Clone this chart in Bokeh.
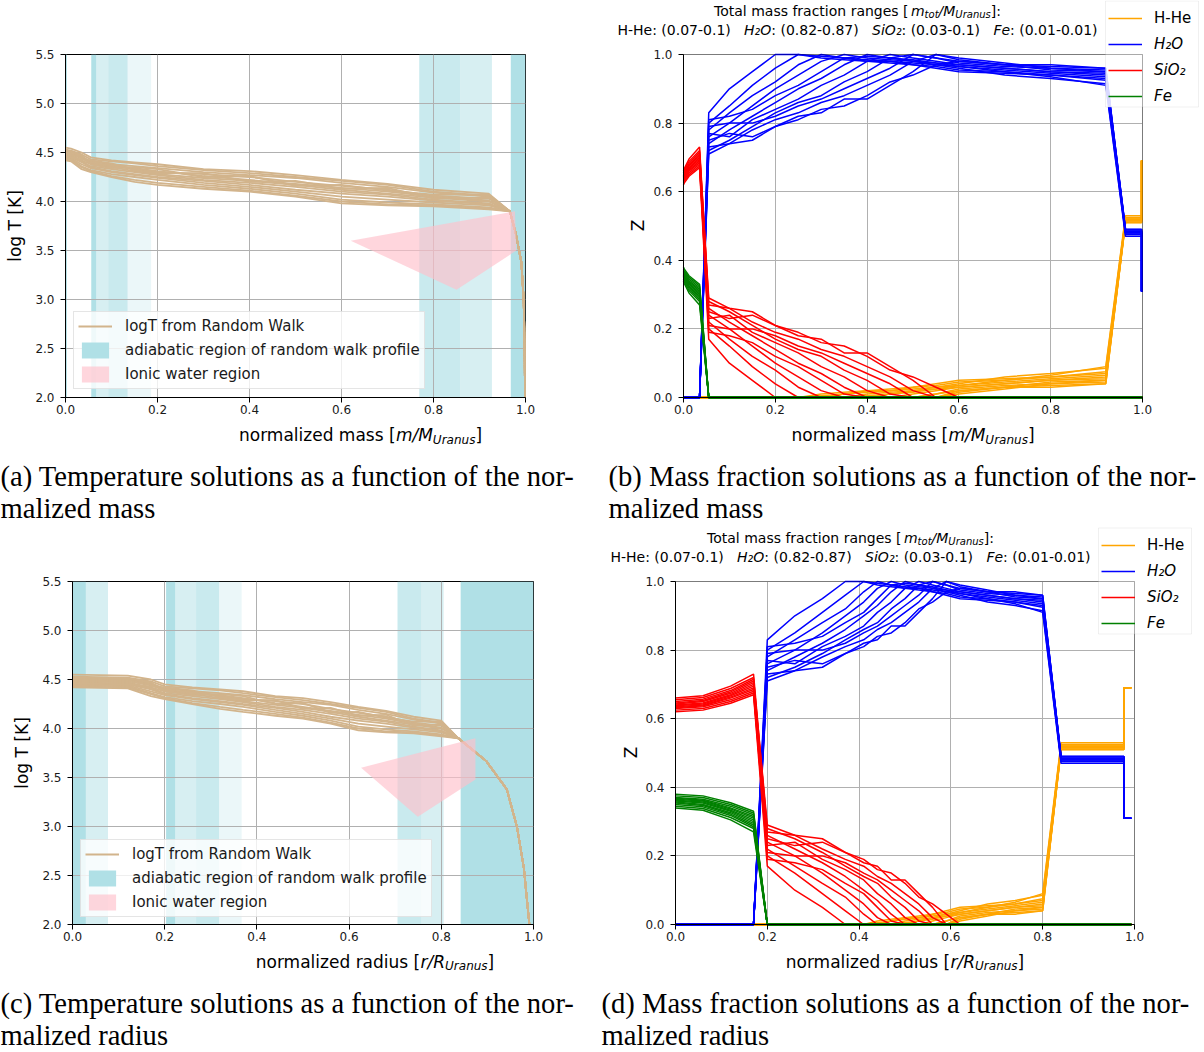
import math
from bokeh.plotting import figure
from bokeh.models import (Range1d, FixedTicker, PrintfTickFormatter, Legend,
                          LegendItem, Label, ColumnDataSource, BoxAnnotation)
from bokeh.layouts import column, row
from bokeh.embed import file_html
from bokeh.resources import INLINE

# ------------------------------------------------------------------ data
# temperature random-walk profiles (log T [K]) on common nodes
T_NODE_MASS = [0.0, 0.012, 0.035, 0.055, 0.1, 0.15, 0.2, 0.3, 0.4, 0.5, 0.6, 0.7, 0.8, 0.92]
T_NODE_RADIUS = [0.0, 0.12, 0.17, 0.2, 0.26, 0.32, 0.37, 0.44, 0.5, 0.56, 0.62, 0.68, 0.74, 0.80]
LOGT_PROFILES = [
    [4.55, 4.54, 4.50, 4.45, 4.42, 4.40, 4.38, 4.33, 4.31, 4.27, 4.22, 4.18, 4.12, 4.08],
    [4.53, 4.52, 4.48, 4.43, 4.41, 4.39, 4.36, 4.32, 4.29, 4.25, 4.21, 4.17, 4.10, 4.06],
    [4.51, 4.50, 4.46, 4.41, 4.38, 4.36, 4.34, 4.30, 4.27, 4.24, 4.19, 4.15, 4.09, 4.05],
    [4.50, 4.49, 4.45, 4.40, 4.36, 4.33, 4.30, 4.28, 4.25, 4.20, 4.16, 4.12, 4.06, 4.03],
    [4.49, 4.48, 4.44, 4.39, 4.37, 4.34, 4.31, 4.26, 4.22, 4.18, 4.14, 4.10, 4.05, 4.01],
    [4.48, 4.47, 4.42, 4.38, 4.35, 4.31, 4.28, 4.24, 4.21, 4.17, 4.12, 4.08, 4.04, 4.00],
    [4.47, 4.46, 4.41, 4.36, 4.33, 4.30, 4.27, 4.22, 4.19, 4.15, 4.10, 4.07, 4.02, 3.98],
    [4.46, 4.45, 4.40, 4.35, 4.31, 4.28, 4.25, 4.21, 4.17, 4.12, 4.08, 4.05, 4.01, 3.97],
    [4.45, 4.44, 4.38, 4.34, 4.30, 4.27, 4.24, 4.19, 4.15, 4.10, 4.05, 4.02, 3.99, 3.96],
    [4.44, 4.43, 4.36, 4.32, 4.28, 4.25, 4.22, 4.17, 4.13, 4.08, 4.02, 3.99, 3.97, 3.94],
    [4.43, 4.42, 4.35, 4.31, 4.26, 4.22, 4.19, 4.15, 4.11, 4.06, 4.00, 3.97, 3.96, 3.93],
    [4.42, 4.41, 4.33, 4.30, 4.25, 4.20, 4.17, 4.13, 4.10, 4.05, 3.98, 3.96, 3.95, 3.92],
    [4.52, 4.51, 4.47, 4.38, 4.34, 4.35, 4.33, 4.25, 4.26, 4.16, 4.17, 4.11, 4.07, 4.07],
    [4.46, 4.45, 4.43, 4.42, 4.39, 4.32, 4.29, 4.29, 4.20, 4.21, 4.13, 4.14, 4.03, 4.04],
]
LOGT_TAIL = [3.9, 3.67, 3.38, 3.0, 2.58, 2.0]
T_TAIL_MASS = [0.966, 0.979, 0.991, 0.996, 0.998, 0.999]
T_TAIL_RADIUS = [0.837, 0.897, 0.942, 0.964, 0.979, 0.991]

# adiabatic regions (start, end, overlap depth)
ADIAB_MASS_START = [0.0, 0.056, 0.067, 0.093, 0.135, 0.769, 0.858, 0.968]
ADIAB_MASS_END = [0.003, 0.067, 0.093, 0.135, 0.186, 0.858, 0.927, 1.0]
ADIAB_MASS_DEPTH = [4, 4, 2, 3, 1, 3, 2, 4]
ADIAB_RADIUS_START = [0.0, 0.029, 0.203, 0.223, 0.268, 0.318, 0.705, 0.757, 0.842]
ADIAB_RADIUS_END = [0.029, 0.077, 0.223, 0.268, 0.318, 0.367, 0.757, 0.805, 1.0]
ADIAB_RADIUS_DEPTH = [4, 2, 4, 2, 3, 1, 3, 2, 4]

# ionic water region polygons
IONIC_MASS_X = [0.62, 0.977, 0.98, 0.85]
IONIC_MASS_Y = [3.6, 3.9, 3.5, 3.1]
IONIC_RADIUS_X = [0.626, 0.874, 0.874, 0.749]
IONIC_RADIUS_Y = [3.6, 3.9, 3.48, 3.1]

# mass fraction profiles on common nodes
Z_NODE_MASS = [0.0, 0.0015, 0.012, 0.035, 0.055, 0.1, 0.15, 0.2, 0.25, 0.3, 0.35, 0.4,
               0.45, 0.5, 0.55, 0.6, 0.7, 0.8, 0.92, 0.963, 0.998, 0.998, 1.0]
Z_NODE_RADIUS = [0.0, 0.06, 0.12, 0.17, 0.2, 0.26, 0.32, 0.37, 0.41, 0.44, 0.47, 0.5,
                 0.53, 0.56, 0.59, 0.62, 0.68, 0.74, 0.80, 0.84, 0.977, 0.977, 0.993]
FE_CORE = [  # nodes 0-3
    [0.38, 0.375, 0.355, 0.33], [0.375, 0.37, 0.35, 0.325], [0.37, 0.365, 0.345, 0.32],
    [0.368, 0.362, 0.34, 0.315], [0.365, 0.36, 0.337, 0.31], [0.362, 0.357, 0.333, 0.305],
    [0.36, 0.354, 0.33, 0.30], [0.357, 0.35, 0.326, 0.295], [0.354, 0.347, 0.322, 0.29],
    [0.35, 0.343, 0.318, 0.285], [0.345, 0.338, 0.312, 0.28], [0.34, 0.333, 0.305, 0.27],
]
SIO2 = [  # nodes 0-14
    [0.62, 0.625, 0.645, 0.67, 0.17, 0.10, 0.05, 0.0, 0.0, 0.0, 0.0, 0.0, 0.0, 0.0, 0.0],
    [0.625, 0.63, 0.65, 0.675, 0.20, 0.15, 0.09, 0.04, 0.0, 0.0, 0.0, 0.0, 0.0, 0.0, 0.0],
    [0.63, 0.635, 0.655, 0.68, 0.22, 0.17, 0.12, 0.08, 0.03, 0.0, 0.0, 0.0, 0.0, 0.0, 0.0],
    [0.632, 0.638, 0.66, 0.685, 0.24, 0.20, 0.15, 0.10, 0.06, 0.02, 0.0, 0.0, 0.0, 0.0, 0.0],
    [0.635, 0.64, 0.663, 0.69, 0.19, 0.18, 0.16, 0.12, 0.09, 0.05, 0.01, 0.0, 0.0, 0.0, 0.0],
    [0.638, 0.643, 0.667, 0.695, 0.26, 0.22, 0.18, 0.14, 0.10, 0.07, 0.03, 0.0, 0.0, 0.0, 0.0],
    [0.64, 0.646, 0.67, 0.70, 0.23, 0.24, 0.19, 0.16, 0.13, 0.09, 0.06, 0.02, 0.0, 0.0, 0.0],
    [0.643, 0.65, 0.674, 0.705, 0.28, 0.25, 0.21, 0.17, 0.14, 0.12, 0.08, 0.05, 0.01, 0.0, 0.0],
    [0.646, 0.653, 0.678, 0.71, 0.21, 0.20, 0.20, 0.18, 0.15, 0.13, 0.10, 0.07, 0.04, 0.0, 0.0],
    [0.65, 0.657, 0.682, 0.715, 0.29, 0.26, 0.22, 0.19, 0.17, 0.14, 0.12, 0.09, 0.06, 0.02, 0.0],
    [0.655, 0.662, 0.688, 0.72, 0.25, 0.23, 0.24, 0.21, 0.18, 0.17, 0.13, 0.13, 0.09, 0.05, 0.0],
    [0.66, 0.667, 0.695, 0.73, 0.27, 0.26, 0.25, 0.21, 0.19, 0.16, 0.15, 0.12, 0.08, 0.06, 0.03],
]
HHE = [  # nodes 9-19
    [0.01, 0.015, 0.02, 0.025, 0.03, 0.04, 0.05, 0.055, 0.06, 0.07, 0.52],
    [0.005, 0.01, 0.02, 0.02, 0.03, 0.035, 0.045, 0.05, 0.065, 0.09, 0.53],
    [0.0, 0.01, 0.015, 0.02, 0.025, 0.03, 0.04, 0.06, 0.07, 0.085, 0.525],
    [0.0, 0.0, 0.01, 0.015, 0.02, 0.03, 0.035, 0.045, 0.055, 0.065, 0.52],
    [0.0, 0.0, 0.005, 0.01, 0.015, 0.025, 0.03, 0.04, 0.05, 0.06, 0.515],
    [0.0, 0.0, 0.0, 0.01, 0.02, 0.025, 0.035, 0.05, 0.06, 0.075, 0.52],
    [0.0, 0.0, 0.0, 0.0, 0.01, 0.02, 0.03, 0.04, 0.05, 0.055, 0.51],
    [0.0, 0.0, 0.0, 0.0, 0.0, 0.01, 0.02, 0.03, 0.045, 0.05, 0.515],
    [0.0, 0.0, 0.0, 0.0, 0.0, 0.01, 0.025, 0.035, 0.04, 0.045, 0.51],
    [0.0, 0.0, 0.0, 0.0, 0.0, 0.0, 0.015, 0.03, 0.035, 0.04, 0.51],
    [0.0, 0.0, 0.0, 0.0, 0.0, 0.0, 0.01, 0.025, 0.04, 0.05, 0.52],
    [0.0, 0.0, 0.0, 0.0, 0.0, 0.0, 0.02, 0.03, 0.03, 0.04, 0.515],
]
H2O = [  # nodes 4-19
    [0.83, 0.90, 0.95, 1.0, 1.0, 0.99, 0.985, 0.98, 0.975, 0.97, 0.96, 0.95, 0.945, 0.94, 0.93, 0.48],
    [0.80, 0.85, 0.91, 0.96, 1.0, 0.995, 0.99, 0.98, 0.98, 0.97, 0.965, 0.955, 0.95, 0.935, 0.91, 0.47],
    [0.78, 0.83, 0.88, 0.92, 0.97, 1.0, 0.99, 0.985, 0.98, 0.975, 0.97, 0.96, 0.94, 0.93, 0.915, 0.475],
    [0.76, 0.80, 0.85, 0.90, 0.94, 0.98, 1.0, 0.99, 0.985, 0.98, 0.97, 0.965, 0.955, 0.945, 0.935, 0.48],
    [0.81, 0.82, 0.84, 0.88, 0.91, 0.95, 0.99, 0.995, 0.99, 0.985, 0.975, 0.97, 0.96, 0.95, 0.94, 0.485],
    [0.74, 0.78, 0.82, 0.86, 0.90, 0.93, 0.97, 1.0, 0.99, 0.98, 0.975, 0.965, 0.95, 0.94, 0.925, 0.48],
    [0.77, 0.76, 0.81, 0.84, 0.87, 0.91, 0.94, 0.98, 1.0, 0.99, 0.98, 0.97, 0.96, 0.95, 0.945, 0.49],
    [0.72, 0.75, 0.79, 0.83, 0.86, 0.88, 0.92, 0.95, 0.99, 1.0, 0.99, 0.98, 0.97, 0.955, 0.95, 0.485],
    [0.79, 0.80, 0.80, 0.82, 0.85, 0.87, 0.90, 0.93, 0.96, 1.0, 0.99, 0.975, 0.965, 0.96, 0.955, 0.49],
    [0.71, 0.74, 0.78, 0.81, 0.83, 0.86, 0.88, 0.91, 0.94, 0.98, 1.0, 0.985, 0.97, 0.965, 0.96, 0.49],
    [0.75, 0.77, 0.76, 0.79, 0.82, 0.83, 0.87, 0.87, 0.91, 0.95, 1.0, 0.99, 0.975, 0.96, 0.95, 0.48],
    [0.73, 0.74, 0.75, 0.79, 0.81, 0.84, 0.85, 0.88, 0.92, 0.94, 0.97, 0.98, 0.97, 0.97, 0.96, 0.485],
]
OUTER_HHE = [0.69, 0.69]
OUTER_H2O = [0.31, 0.31]

X_TICKS = [0.0, 0.2, 0.4, 0.6, 0.8, 1.0]
T_TICKS = [2.0, 2.5, 3.0, 3.5, 4.0, 4.5, 5.0, 5.5]
Z_TICKS = [0.0, 0.2, 0.4, 0.6, 0.8, 1.0]

SPECIES = ["H-He", "H\u2082O", "SiO\u2082", "Fe"]
SPECIES_COLORS = ["#FFA500", "#0000FF", "#FF0000", "#008000"]

CAPTIONS = [
    ["(a) Temperature solutions as a function of the nor-", "malized mass"],
    ["(b) Mass fraction solutions as a function of the nor-", "malized mass"],
    ["(c) Temperature solutions as a function of the nor-", "malized radius"],
    ["(d) Mass fraction solutions as a function of the nor-", "malized radius"],
]

# ------------------------------------------------------------------ helpers
FONT = "DejaVu Sans"
W = {' ': .318, '(': .390, ')': .390, '-': .361, '.': .318, '/': .337, ':': .337,
     '[': .390, ']': .390, 'A': .684, 'F': .575, 'H': .752, 'K': .656, 'M': .863,
     'O': .787, 'R': .695, 'S': .635, 'T': .611, 'U': .732, 'Z': .685, 'a': .613,
     'b': .635, 'c': .550, 'd': .635, 'e': .615, 'f': .352, 'g': .635, 'h': .634,
     'i': .278, 'k': .579, 'l': .278, 'm': .974, 'n': .634, 'o': .612, 'p': .635,
     'r': .411, 's': .521, 't': .392, 'u': .634, 'v': .592, 'w': .818, 'y': .592,
     'z': .525, '\u2082': .401}
for d in "0123456789":
    W[d] = .636


def tw(s, size):
    return sum(W.get(ch, 0.6) for ch in s) * size


def rich(p, pieces, x, y):
    total = sum(tw(t, sz) for t, it, sz, dy in pieces)
    x0 = x - total / 2
    for t, it, sz, dy in pieces:
        s = t.rstrip()
        if s:
            p.add_layout(Label(x=x0, y=y - dy, x_units="screen", y_units="screen", text=s,
                               text_font=FONT, text_font_size=f"{sz}px",
                               text_font_style="italic" if it else "normal",
                               text_baseline="alphabetic", text_align="left",
                               text_color="black", level="overlay"))
        x0 += tw(t, sz)


PX_X = 459.0   # pixels per data unit along x in every panel
PX_Z = 343.0   # pixels per data unit along Z
Z_BOTTOM = 25  # pixels below Z = 0 kept for the tick labels


def style_axes(p, yticks):
    p.xaxis.ticker = FixedTicker(ticks=X_TICKS)
    p.yaxis.ticker = FixedTicker(ticks=yticks)
    for ax in (p.xaxis[0], p.yaxis[0]):
        ax.formatter = PrintfTickFormatter(format="%.1f")
        ax.major_label_text_font = FONT
        ax.major_label_text_font_size = "12px"
        ax.major_label_text_color = "#1a1a1a"
        ax.major_tick_out = 5
        ax.major_tick_in = 0
        ax.minor_tick_out = 0
        ax.minor_tick_in = 0
        ax.axis_line_color = "black"
        ax.major_tick_line_color = "black"
    p.xaxis.major_label_standoff = 2
    p.yaxis.major_label_standoff = 6
    p.grid.grid_line_color = "#b0b0b0"
    p.grid.grid_line_width = 1
    p.background_fill_color = "white"
    p.border_fill_color = "white"


DEPTH_ALPHA = {1: 0.25, 2: 0.5, 3: 0.68, 4: 1.0}


def temp_panel(width, height, left, right, top, t_nodes, tail_x, a_start, a_end, a_depth,
               ion_x, ion_y, leg_loc):
    p = figure(width=width, height=height, x_range=Range1d(0, 1), y_range=Range1d(2.0, 5.5),
               toolbar_location=None, output_backend="svg", title=None,
               min_border_left=left, min_border_right=right,
               min_border_top=top, min_border_bottom=25)
    style_axes(p, T_TICKS)
    p.yaxis.axis_label = "log T [K]"
    p.yaxis.axis_label_text_font = FONT
    p.yaxis.axis_label_text_font_size = "17px"
    p.yaxis.axis_label_text_font_style = "normal"
    p.yaxis.axis_label_text_color = "black"
    p.yaxis.axis_label_standoff = 7
    p.outline_line_color = "black"
    p.outline_line_alpha = 1
    src = ColumnDataSource(dict(left=a_start, right=a_end,
                                alpha=[DEPTH_ALPHA[d] for d in a_depth]))
    strips = p.quad(left="left", right="right", bottom=2.0, top=5.5, source=src,
                    fill_color="#B0E0E6", fill_alpha="alpha", line_color=None, level="image")
    xs = [list(t_nodes) + list(tail_x) for _ in LOGT_PROFILES]
    ys = [list(prof) + list(LOGT_TAIL) for prof in LOGT_PROFILES]
    tl = p.multi_line(xs, ys, line_color="#D2B48C", line_width=1.8)
    ion = p.patch(ion_x, ion_y, fill_color="pink", fill_alpha=0.65, line_color=None)
    leg = Legend(items=[LegendItem(label="logT from Random Walk", renderers=[tl]),
                        LegendItem(label="adiabatic region of random walk profile",
                                   renderers=[strips], index=0),
                        LegendItem(label="Ionic water region", renderers=[ion])],
                 location=leg_loc, label_text_font=FONT, label_text_font_size="15px",
                 label_text_color="#1a1a1a", glyph_width=34, glyph_height=20,
                 label_height=20, spacing=4, padding=4, label_standoff=13, margin=0,
                 border_line_color="#cccccc", border_line_width=1,
                 background_fill_color="white", background_fill_alpha=0.8)
    p.add_layout(leg)
    return p


def z_panel(width, height, axis_px, nodes, title_cx, leg_x, leg_top, zlabel_x):
    # The frame covers the whole figure so that the title, the legend and the tick
    # labels, which lie around the axes box in the original, stay inside it; both
    # axes are pinned at 0.
    zh = height - Z_BOTTOM
    p = figure(width=width, height=height,
               x_range=Range1d(-axis_px / PX_X, (width - axis_px) / PX_X),
               y_range=Range1d(-Z_BOTTOM / PX_Z, zh / PX_Z),
               toolbar_location=None, output_backend="svg", title=None, min_border=0)
    style_axes(p, Z_TICKS)
    p.outline_line_color = None
    p.xaxis.fixed_location = 0
    p.yaxis.fixed_location = 0
    p.xaxis.bounds = (0, 1)
    p.yaxis.bounds = (0, 1)
    p.xgrid.cross_bounds = (0, 1)
    p.ygrid.cross_bounds = (0, 1)
    p.add_layout(BoxAnnotation(left=0, right=1, bottom=0, top=1, fill_alpha=0,
                               line_color="black", line_width=1, level="overlay"))
    p.add_layout(Label(x=zlabel_x, y=Z_BOTTOM + 172, x_units="screen", y_units="screen",
                       text="Z", angle=math.pi / 2, text_font=FONT, text_font_size="17px",
                       text_align="center", text_baseline="middle", text_color="black"))
    n = len(nodes)
    hhe = [[0.0] * 9 + h + [h[-1]] + OUTER_HHE for h in HHE]
    h2o = [[0.0] * 4 + w + [w[-1]] + OUTER_H2O for w in H2O]
    sio = [s + [0.0] * (n - len(s)) for s in SIO2]
    fe = [f + [0.0] * (n - len(f)) for f in FE_CORE]
    rends = []
    for ys, col in zip((hhe, h2o, sio, fe), SPECIES_COLORS):
        rends.append(p.multi_line([list(nodes)] * len(ys), ys, line_color=col, line_width=1.5))
    # legend: one box, first entry upright, the chemical formulas in italics
    top = Z_BOTTOM + leg_top
    p.add_layout(BoxAnnotation(left=leg_x, right=leg_x + 93, bottom=top - 106, top=top,
                               left_units="screen", right_units="screen",
                               bottom_units="screen", top_units="screen",
                               fill_color="white", fill_alpha=0.85,
                               line_color="#cccccc", line_width=1))
    common = dict(label_text_font=FONT, label_text_font_size="15px",
                  label_text_color="black", glyph_width=34, glyph_height=22,
                  label_height=22, spacing=4, padding=3, label_standoff=12, margin=0,
                  border_line_color=None, background_fill_alpha=0)
    p.add_layout(Legend(items=[LegendItem(label=SPECIES[0], renderers=[rends[0]])],
                        location=(leg_x + 3, top - 28), label_text_font_style="normal",
                        **common))
    p.add_layout(Legend(items=[LegendItem(label=s, renderers=[r])
                               for s, r in zip(SPECIES[1:], rends[1:])],
                        location=(leg_x + 3, top - 106), label_text_font_style="italic",
                        **common))
    line1 = [("Total mass fraction ranges [", False, 14, 0), ("m", True, 14, 1.5),
             ("tot", True, 10, 3), ("/M", True, 14, 0), ("Uranus", True, 10, 3),
             ("]:", False, 14, 0)]
    line2 = [("H-He: (0.07-0.1)   ", False, 14, 0), ("H\u2082O", True, 14, 0),
             (": (0.82-0.87)   ", False, 14, 0), ("SiO\u2082", True, 14, 0),
             (": (0.03-0.1)   ", False, 14, 0), ("Fe", True, 14, 0),
             (": (0.01-0.01)", False, 14, 0)]
    rich(p, [(t, it, sz, 0 if (sz == 14) else dy) for t, it, sz, dy in line1],
         title_cx, Z_BOTTOM + 386.5)
    rich(p, line2, title_cx, Z_BOTTOM + 367.5)
    return p


def blank_fig(width, height):
    p = figure(width=width, height=height, x_range=(0, 1), y_range=(0, 1),
               toolbar_location=None, output_backend="svg", title=None,
               x_axis_type=None, y_axis_type=None, min_border=0)
    p.grid.visible = False
    p.outline_line_color = None
    return p


def xlabel_fig(width, height, word, sym, cx, base_y):
    p = blank_fig(width, height)
    rich(p, [(f"normalized {word} [", False, 17, 0), (sym, True, 17, 0),
             ("Uranus", True, 12, 4.5), ("]", False, 17, 0)], cx, base_y)
    return p


def caption_fig(width, lines, x0, ys):
    p = blank_fig(width, 76)
    for txt, y in zip(lines, ys):
        p.add_layout(Label(x=x0, y=y, x_units="screen", y_units="screen", text=txt,
                           text_font="Liberation Serif", text_font_size="28.6px",
                           text_baseline="middle", text_color="black"))
    return p


pa = temp_panel(600, 422, 65, 75, 54, T_NODE_MASS, T_TAIL_MASS, ADIAB_MASS_START,
                ADIAB_MASS_END, ADIAB_MASS_DEPTH, IONIC_MASS_X, IONIC_MASS_Y, (8, 8))
pb = z_panel(604, 422, 83, Z_NODE_MASS, 257, 505, 396.5, 37)
pc = temp_panel(600, 423, 72, 67, 55, T_NODE_RADIUS, T_TAIL_RADIUS, ADIAB_RADIUS_START,
                ADIAB_RADIUS_END, ADIAB_RADIUS_DEPTH, IONIC_RADIUS_X, IONIC_RADIUS_Y, (8, 7))
pd_ = z_panel(604, 423, 75, Z_NODE_RADIUS, 250, 498, 396.5, 30)

xa = xlabel_fig(600, 28, "mass", "m/M", 295, 15.5)
xb = xlabel_fig(604, 28, "mass", "m/M", 312.5, 15.5)
xc = xlabel_fig(600, 27, "radius", "r/R", 302.5, 15)
xd = xlabel_fig(604, 27, "radius", "r/R", 304.5, 15)

ca = caption_fig(600, CAPTIONS[0], 0, [50, 18])
cb = caption_fig(604, CAPTIONS[1], 8, [50, 18])
cc = caption_fig(600, CAPTIONS[2], 0, [49, 17])
cd = caption_fig(604, CAPTIONS[3], 1, [49, 17])

layout = column(row(column(pa, xa), column(pb, xb)), row(ca, cb),
                row(column(pc, xc), column(pd_, xd)), row(cc, cd))
open("out.html", "w").write(file_html(layout, INLINE))
